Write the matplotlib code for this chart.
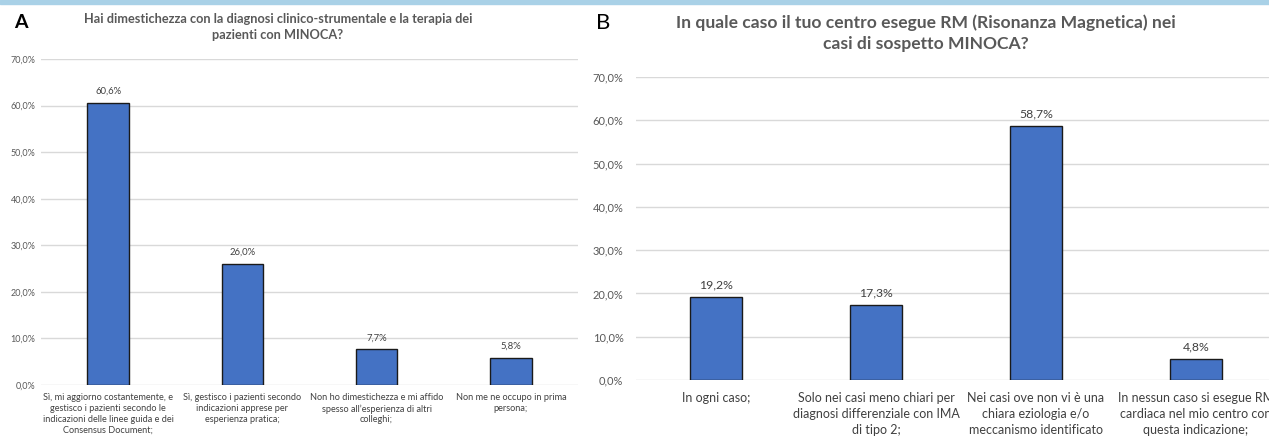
import matplotlib.pyplot as plt
from matplotlib.patches import Rectangle

plt.rcParams["font.family"] = ["Lato", "DejaVu Sans"]

# Panel A data
labels_a = [
    "Sì, mi aggiorno costantemente, e\ngestisco i pazienti secondo le\nindicazioni delle linee guida e dei\nConsensus Document;",
    "Sì, gestisco i pazienti secondo\nindicazioni apprese per\nesperienza pratica;",
    "Non ho dimestichezza e mi affido\nspesso all’esperienza di altri\ncolleghi;",
    "Non me ne occupo in prima\npersona;",
]
values_a = [60.6, 26.0, 7.7, 5.8]
title_a = "Hai dimestichezza con la diagnosi clinico-strumentale e la terapia dei\npazienti con MINOCA?"

# Panel B data
labels_b = [
    "In ogni caso;",
    "Solo nei casi meno chiari per\ndiagnosi differenziale con IMA\ndi tipo 2;",
    "Nei casi ove non vi è una\nchiara eziologia e/o\nmeccanismo identificato",
    "In nessun caso si esegue RM\ncardiaca nel mio centro con\nquesta indicazione;",
]
values_b = [19.2, 17.3, 58.7, 4.8]
title_b = "In quale caso il tuo centro esegue RM (Risonanza Magnetica) nei\ncasi di sospetto MINOCA?"

yticks = [0, 10, 20, 30, 40, 50, 60, 70]

BAR = "#4472C4"
GRID = "#D9D9D9"
TXT = "#595959"
W, H = 1269, 438


def pct(v):
    return f"{v:.1f}".replace(".", ",") + "%"


def draw(ax, labels, values, width, fs_tick, fs_lab, fs_val, pad_y, pad_x, lsp):
    x = range(len(values))
    ax.bar(x, values, width, color=BAR, edgecolor="#1a1a1a", linewidth=1.0, zorder=3)
    ax.set_ylim(0, 70)
    ax.set_xlim(-0.5, len(values) - 0.5)
    ax.set_yticks(yticks)
    ax.set_yticklabels([pct(t) for t in yticks], fontsize=fs_tick, color=TXT)
    ax.set_xticks(list(x))
    ax.set_xticklabels(labels, fontsize=fs_lab, color="#404040", linespacing=lsp)
    ax.tick_params(axis="both", length=0)
    ax.tick_params(axis="y", pad=pad_y)
    ax.tick_params(axis="x", pad=pad_x)
    ax.grid(axis="y", color=GRID, linewidth=1.0, zorder=0)
    for s in ax.spines.values():
        s.set_visible(False)
    for i, v in zip(x, values):
        ax.annotate(pct(v), (i, v), xytext=(0, 5), textcoords="offset points",
                    ha="center", va="bottom", fontsize=fs_val, color="#404040")


fig = plt.figure(figsize=(W / 100, H / 100), dpi=100)
fig.patches.append(Rectangle((0, 1 - 4 / H), 1, 4 / H, transform=fig.transFigure,
                             color="#A9D1E7", zorder=0))

ax_a = fig.add_axes([41 / W, 1 - 385 / H, (578 - 41) / W, (385 - 59) / H])
draw(ax_a, labels_a, values_a, 0.31, 6.5, 6.6, 6.8, 4, 6, 1.25)
fig.text(278 / W, 1 - 27 / H, title_a, ha="center", va="center", fontsize=9.2,
         fontweight="bold", color=TXT, linespacing=1.45)
fig.text(14 / W, 1 - 22 / H, "A", ha="left", va="center", fontsize=14,
         fontweight="bold", color="black")

ax_b = fig.add_axes([636 / W, 1 - 380 / H, 640 / W, (380 - 77) / H])
draw(ax_b, labels_b, values_b, 0.32, 8, 9, 8.8, 9, 9, 1.35)
fig.text(926 / W, 1 - 33 / H, title_b, ha="center", va="center", fontsize=12.6,
         fontweight="bold", color=TXT, linespacing=1.35)
fig.text(596 / W, 1 - 23 / H, "B", ha="left", va="center", fontsize=16,
         color="black")

fig.savefig("out.png", dpi=100)
